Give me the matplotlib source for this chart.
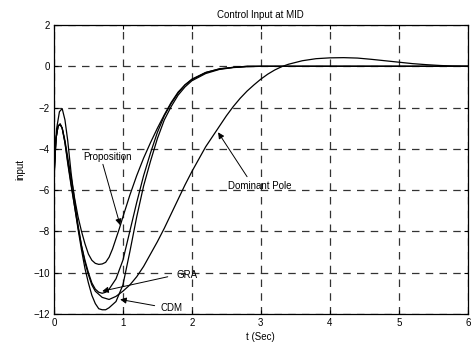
import matplotlib
matplotlib.use("Agg")
import matplotlib.pyplot as plt

plt.rcParams['font.family'] = ['Liberation Sans', 'DejaVu Sans']

# Proposition
t_prop = [0, 0.03, 0.06, 0.09, 0.12, 0.16, 0.2, 0.25, 0.3, 0.35, 0.4, 0.45, 0.5,
          0.55, 0.6, 0.65, 0.7, 0.75, 0.8, 0.85, 0.9, 0.95, 1.0, 1.1, 1.2, 1.3,
          1.4, 1.5, 1.6, 1.7, 1.8, 1.9, 2.0, 2.2, 2.4, 2.6, 2.8, 3.0, 6.0]
u_prop = [-5.5, -3.5, -2.9, -2.8, -3.0, -3.6, -4.4, -5.4, -6.4, -7.3, -8.0, -8.6, -9.1,
          -9.4, -9.55, -9.6, -9.58, -9.5, -9.25, -8.85, -8.35, -7.85, -7.3, -6.25, -5.3, -4.45,
          -3.7, -3.0, -2.35, -1.75, -1.25, -0.9, -0.62, -0.3, -0.12, -0.05, 0, 0, 0]

# GRA
t_gra = [0, 0.03, 0.06, 0.09, 0.12, 0.16, 0.2, 0.25, 0.3, 0.35, 0.4, 0.45, 0.5,
         0.55, 0.6, 0.65, 0.7, 0.75, 0.8, 0.9, 1.0, 1.1, 1.2, 1.3, 1.4, 1.5,
         1.6, 1.7, 1.8, 1.9, 2.0, 2.2, 2.4, 2.6, 2.8, 3.0, 6.0]
u_gra = [-5.5, -3.5, -2.9, -2.8, -3.0, -3.7, -4.6, -5.7, -6.8, -7.8, -8.7, -9.4, -10.0,
         -10.5, -10.8, -10.95, -11.0, -10.95, -10.8, -10.3, -9.4, -8.0, -6.6, -5.3, -4.2, -3.2,
         -2.4, -1.8, -1.3, -0.9, -0.65, -0.3, -0.13, -0.05, 0, 0, 0]

# CDM
t_cdm = [0, 0.03, 0.06, 0.09, 0.12, 0.16, 0.2, 0.25, 0.3, 0.35, 0.4, 0.45, 0.5,
         0.55, 0.6, 0.65, 0.7, 0.75, 0.8, 0.9, 1.0, 1.1, 1.2, 1.3, 1.4, 1.5,
         1.6, 1.7, 1.8, 1.9, 2.0, 2.2, 2.4, 2.6, 2.8, 3.0, 6.0]
u_cdm = [-5.5, -3.5, -2.9, -2.8, -3.0, -3.7, -4.7, -5.8, -6.8, -7.9, -8.9, -9.8, -10.5,
         -11.1, -11.5, -11.75, -11.8, -11.8, -11.7, -11.4, -10.6, -9.0, -7.3, -5.8, -4.6, -3.5,
         -2.6, -1.95, -1.4, -1.0, -0.7, -0.35, -0.15, -0.06, -0.02, 0, 0]

# Dominant Pole
t_dom = [0, 0.04, 0.08, 0.12, 0.16, 0.2, 0.25, 0.3, 0.35, 0.4, 0.45, 0.5, 0.55,
         0.6, 0.7, 0.8, 0.9, 1.0, 1.1, 1.2, 1.3, 1.4, 1.5, 1.6, 1.7, 1.8,
         1.9, 2.0, 2.1, 2.2, 2.3, 2.4, 2.5, 2.6, 2.7, 2.8, 2.9, 3.0, 3.1,
         3.2, 3.3, 3.4, 3.6, 3.8, 4.0, 4.2, 4.4, 4.6, 4.8, 5.0, 5.2, 5.4,
         5.6, 5.8, 6.0]
u_dom = [-5.0, -3.0, -2.2, -2.05, -2.6, -3.6, -5.2, -6.5, -7.7, -8.7, -9.5, -10.1, -10.6,
         -10.9, -11.2, -11.3, -11.15, -10.9, -10.6, -10.2, -9.7, -9.1, -8.5, -7.85, -7.15, -6.45,
         -5.75, -5.1, -4.5, -3.9, -3.4, -2.9, -2.4, -1.95, -1.55, -1.2, -0.9, -0.62, -0.38,
         -0.18, -0.02, 0.1, 0.27, 0.37, 0.41, 0.42, 0.4, 0.34, 0.27, 0.2, 0.13, 0.08,
         0.04, 0.01, 0]

fig = plt.figure(figsize=(4.73, 3.48), dpi=100)
ax = fig.add_axes([0.114, 0.098, 0.875, 0.83])

for t, u in [(t_prop, u_prop), (t_gra, u_gra), (t_cdm, u_cdm), (t_dom, u_dom)]:
    ax.plot(t, u, color='black', lw=0.9)

ax.set_xlim(0, 6)
ax.set_ylim(-12, 2)
ax.set_xticks(range(0, 7))
ax.set_yticks(range(-12, 3, 2))
ax.grid(True, color='#333333', linestyle=(0, (6, 5)), lw=0.9)
ax.tick_params(direction='in', top=True, right=True, labelsize=7, length=3, pad=3)
for s in ax.spines.values():
    s.set_linewidth(0.9)

ax.set_title('Control Input at MID', fontsize=7, pad=5)
ax.set_xlabel('t (Sec)', fontsize=7, labelpad=3)
ax.set_ylabel('input', fontsize=7, labelpad=6)

arrow = dict(arrowstyle='-|>', color='black', lw=0.7, mutation_scale=9,
             shrinkA=0, shrinkB=0)
labels = [
    ('Proposition', (0.96, -7.7), (0.78, -4.4), (0.71, -4.75)),
    ('Dominant Pole', (2.38, -3.2), (2.99, -5.8), (2.8, -5.35)),
    ('GRA', (0.70, -10.9), (1.93, -10.1), (1.65, -10.2)),
    ('CDM', (0.96, -11.3), (1.70, -11.7), (1.46, -11.6)),
]
for name, tip, txt, start in labels:
    ax.annotate('', xy=tip, xytext=start, arrowprops=arrow)
    ax.text(txt[0], txt[1], name, fontsize=7, ha='center', va='center')

fig.savefig('out.png', dpi=100)
